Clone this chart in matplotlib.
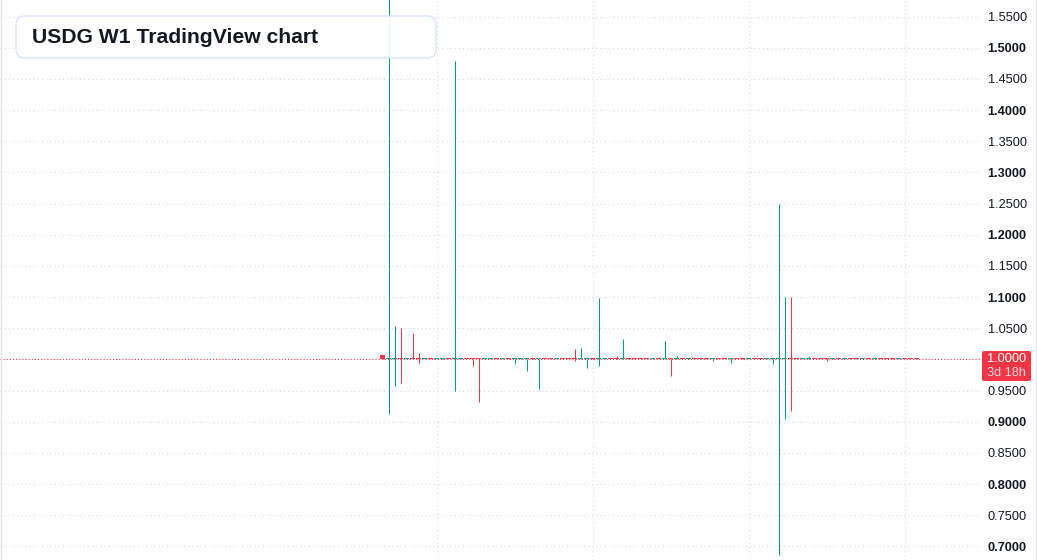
import matplotlib
matplotlib.use("Agg")
import matplotlib.pyplot as plt
from matplotlib.patches import FancyBboxPatch
from matplotlib.transforms import IdentityTransform
from matplotlib.lines import Line2D

# ---------------- data (weekly candles, index = week number) ----------------
opens = [
    1.0064, 1.0, 1.0, 1.0001, 1.0, 1.0001, 1.0001, 1.0, 1.0001, 1.0,
    1.0, 1.0001, 1.0, 1.0, 1.0001, 1.0001, 1.0001, 1.0, 1.0, 1.0001,
    1.0, 1.0001, 1.0, 1.0, 1.0, 1.0001, 1.0, 1.0001, 1.0001, 1.0,
    1.0001, 1.0001, 1.0001, 1.0, 1.0, 1.0001, 1.0, 1.0, 1.0001, 1.0001,
    1.0, 1.0001, 1.0001, 1.0001, 1.0001, 1.0, 1.0001, 1.0, 1.0001, 1.0,
    1.0001, 1.0, 1.0001, 1.0001, 1.0001, 1.0, 1.0001, 1.0001, 1.0, 1.0001,
    1.0001, 1.0, 1.0001, 1.0001, 1.0, 1.0, 1.0, 1.0, 1.0001, 1.0001,
    1.0, 1.0, 1.0001, 1.0001, 1.0001, 1.0, 1.0001, 1.0, 1.0001, 1.0001,
    1.0, 1.0001, 1.0, 1.0001, 1.0001, 1.0001, 1.0, 1.0001, 1.0001, 1.0001,
]
closes = [
    1.0, 1.0001, 1.0001, 1.0, 1.0001, 1.0, 1.0, 1.0001, 1.0, 1.0001,
    1.0001, 1.0, 1.0001, 1.0001, 1.0, 1.0, 1.0, 1.0001, 1.0001, 1.0,
    1.0001, 1.0, 1.0001, 1.0001, 1.0001, 1.0, 1.0001, 1.0, 1.0, 1.0001,
    1.0, 1.0, 1.0, 1.0001, 1.0001, 1.0, 1.0001, 1.0001, 1.0, 1.0,
    1.0001, 1.0, 1.0, 1.0, 1.0, 1.0001, 1.0, 1.0001, 1.0, 1.0001,
    1.0, 1.0001, 1.0, 1.0, 1.0, 1.0001, 1.0, 1.0, 1.0001, 1.0,
    1.0, 1.0001, 1.0, 1.0, 1.0001, 1.0001, 1.0001, 1.0001, 1.0, 1.0,
    1.0001, 1.0001, 1.0, 1.0, 1.0, 1.0001, 1.0, 1.0001, 1.0, 1.0,
    1.0001, 1.0, 1.0001, 1.0, 1.0, 1.0, 1.0001, 1.0, 1.0, 1.0,
]
highs = [
    1.0064, 1.58, 1.053, 1.050, 1.0016, 1.043, 1.010, 1.0001, 1.0001, 1.0001,
    1.002, 1.0001, 1.479, 1.0001, 1.0001, 1.0001, 1.0001, 1.0001, 1.0001, 1.0001,
    1.002, 1.003, 1.0001, 1.003, 1.0001, 1.002, 1.0001, 1.0001, 1.0001, 1.0001,
    1.0001, 1.0001, 1.016, 1.018, 1.0001, 1.002, 1.099, 1.0001, 1.0001, 1.006,
    1.032, 1.002, 1.0001, 1.0001, 1.0001, 1.003, 1.0001, 1.030, 1.0001, 1.005,
    1.0001, 1.002, 1.0001, 1.0001, 1.0001, 1.0001, 1.0001, 1.0001, 1.0001, 1.0001,
    1.002, 1.0001, 1.0001, 1.0001, 1.0001, 1.0001, 1.25, 1.10, 1.10, 1.0001,
    1.0001, 1.005, 1.0001, 1.0001, 1.0001, 1.0001, 1.0001, 1.0001, 1.0001, 1.0001,
    1.0001, 1.0001, 1.004, 1.0001, 1.0001, 1.002, 1.0001, 1.0001, 1.0001, 1.0001,
]
lows = [
    1.0, 0.912, 0.958, 0.962, 1.0, 1.0, 0.995, 1.0, 1.0, 1.0,
    1.0, 1.0, 0.950, 1.0, 1.0, 0.990, 0.931, 1.0, 1.0, 1.0,
    1.0, 1.0, 0.992, 1.0, 0.981, 1.0, 0.953, 1.0, 1.0, 1.0,
    1.0, 1.0, 0.997, 1.0, 0.986, 1.0, 0.989, 1.0, 1.0, 1.0,
    1.0, 1.0, 1.0, 1.0, 1.0, 1.0, 1.0, 1.0, 0.973, 1.0,
    1.0, 1.0, 1.0, 1.0, 1.0, 0.997, 1.0, 1.0, 0.995, 1.0,
    1.0, 1.0, 1.0, 1.0, 1.0, 0.992, 0.686, 0.905, 0.917, 1.0,
    1.0, 1.0, 1.0, 1.0, 0.997, 1.0, 1.0, 1.0, 1.0, 1.0,
    1.0, 1.0, 1.0, 1.0, 1.0, 1.0, 1.0, 1.0, 1.0, 1.0,
]
y_ticks = [0.70, 0.75, 0.80, 0.85, 0.90, 0.95, 1.00, 1.05, 1.10, 1.15,
           1.20, 1.25, 1.30, 1.35, 1.40, 1.45, 1.50, 1.55]
x_grid_weeks = [9, 35, 61, 87]
title = "USDG W1 TradingView chart"
countdown = "3d 18h"

# ---------------- style ----------------
UP = "#089981"
DOWN = "#F23645"
TXT = "#131722"
GRID = "#d1d4dc"

plt.rcParams["font.family"] = ["Liberation Sans", "DejaVu Sans"]

W, H = 1037, 560
fig = plt.figure(figsize=(W / 100, H / 100), dpi=100)
fig.patch.set_facecolor("white")
ax = fig.add_axes([0, 0, 980 / W, 1])
ax.set_facecolor("white")

ax.set_xlim(-63.83, 99.5)
ax.set_ylim(0.6783, 1.5765)

n = len(opens)
xs = list(range(n))
colors = [UP if c >= o else DOWN for o, c in zip(opens, closes)]

# wicks
ax.vlines(xs, lows, highs, colors=colors, linewidth=0.75, zorder=3)
# bodies (minimum 1px tall)
min_h = 1.0 / 623.5
bottoms = [min(o, c) for o, c in zip(opens, closes)]
heights = [max(abs(c - o), min_h) for o, c in zip(opens, closes)]
ax.bar(xs, heights, bottom=bottoms, width=5 / 6, color=colors, linewidth=0, zorder=4)

# price line
ax.axhline(closes[-1], color=DOWN, linewidth=0.75, linestyle=(0, (1, 2)), zorder=2)

# grid
ax.set_yticks(y_ticks)
ax.set_xticks(x_grid_weeks)
ax.grid(True, color=GRID, linewidth=0.75, linestyle=(0, (1, 3)), zorder=0)
ax.tick_params(axis="x", length=0, labelbottom=False)
ax.yaxis.tick_right()
ax.tick_params(axis="y", length=0, pad=5.5, labelsize=9.2, labelcolor=TXT)
ax.set_yticklabels([f"{v:.4f}" for v in y_ticks])
for v, lab in zip(y_ticks, ax.get_yticklabels()):
    if round(v * 100) % 10 == 0:
        lab.set_fontweight("bold")
    if abs(v - closes[-1]) < 1e-9:
        lab.set_visible(False)  # covered by the last-price label
for s in ax.spines.values():
    s.set_visible(False)

# edges of the chart panel
fig.add_artist(Line2D([0.8 / W, 0.8 / W], [0, 1], color="#e0e3eb", linewidth=1.0, transform=fig.transFigure))
fig.add_artist(Line2D([1035.5 / W, 1035.5 / W], [0, 1], color="#e0e3eb", linewidth=1.0, transform=fig.transFigure))

# last price label
def px(x, y_top):
    return x, H - y_top

lx0, ly0 = px(982, 381)
label_box = FancyBboxPatch((lx0, ly0), 49, 30, boxstyle="round,pad=0,rounding_size=2",
                           facecolor=DOWN, edgecolor="none", transform=IdentityTransform(), zorder=10)
fig.add_artist(label_box)
fig.text(1006.5 / W, 1 - 359 / H, f"{closes[-1]:.4f}", color="white", fontsize=9.2,
         ha="center", va="center", zorder=11)
fig.text(1006.5 / W, 1 - 373.5 / H, countdown, color="#ffd6da", fontsize=9.2,
         ha="center", va="center", zorder=11)

# title box
tx0, ty0 = px(16, 58)
title_box = FancyBboxPatch((tx0, ty0), 420, 42, boxstyle="round,pad=0,rounding_size=9",
                           facecolor=(1, 1, 1, 0.9), edgecolor="#d8e5fb", linewidth=1.0,
                           transform=IdentityTransform(), zorder=10)
fig.add_artist(title_box)
fig.text(32 / W, 1 - 37.5 / H, title, color=TXT, fontsize=15.2, fontweight="bold",
         ha="left", va="center", zorder=11)

fig.savefig("out.png", dpi=100, facecolor="white")
